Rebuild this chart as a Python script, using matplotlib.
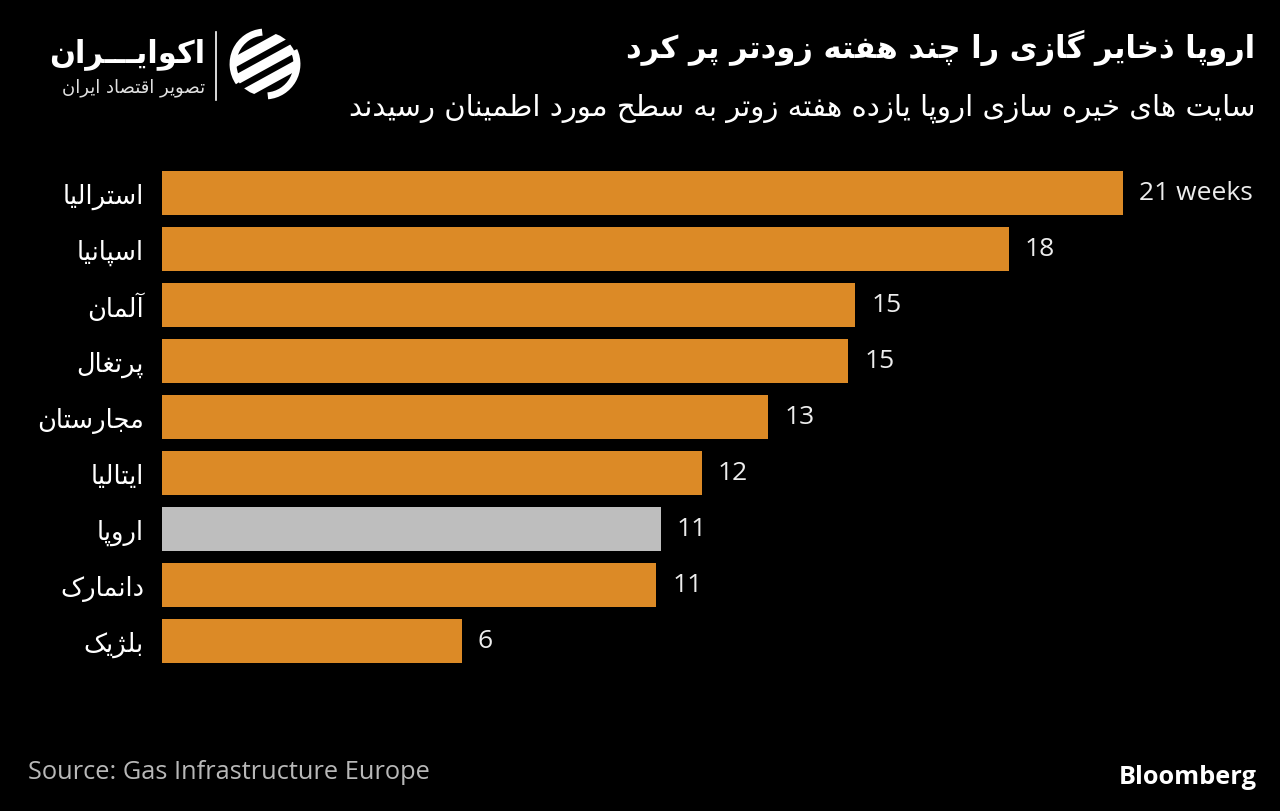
import matplotlib
matplotlib.use("Agg")
import matplotlib.pyplot as plt
from matplotlib.patches import Arc, Circle
import numpy as np

# ---------------- data ----------------
categories = ["استرالیا", "اسپانیا", "آلمان", "پرتغال", "مجارستان",
              "ایتالیا", "اروپا", "دانمارک", "بلژیک"]
weeks = [21.0, 18.5, 15.15, 15.0, 13.25, 11.8, 10.9, 10.8, 6.55]
value_labels = ["21 weeks", "18", "15", "15", "13", "12", "11", "11", "6"]
highlight = "اروپا"

title = "اروپا ذخایر گازی را چند هفته زودتر پر کرد"
subtitle = "سایت های خیره سازی اروپا یازده هفته زوتر به سطح مورد اطمینان رسیدند"
logo_name = "اکوایـــران"
logo_tag = "تصویر اقتصاد ایران"
source = "Source: Gas Infrastructure Europe"
brand = "Bloomberg"

# ---------------- minimal Persian shaping (contextual forms + RTL) ----------------
FORMS = {
    'ا': ('\uFE8D', '\uFE8E', None, None),
    'آ': ('\uFE81', '\uFE82', None, None),
    'ب': ('\uFE8F', '\uFE90', '\uFE91', '\uFE92'),
    'پ': ('\uFB56', '\uFB57', '\uFB58', '\uFB59'),
    'ت': ('\uFE95', '\uFE96', '\uFE97', '\uFE98'),
    'ث': ('\uFE99', '\uFE9A', '\uFE9B', '\uFE9C'),
    'ج': ('\uFE9D', '\uFE9E', '\uFE9F', '\uFEA0'),
    'چ': ('\uFB7A', '\uFB7B', '\uFB7C', '\uFB7D'),
    'ح': ('\uFEA1', '\uFEA2', '\uFEA3', '\uFEA4'),
    'خ': ('\uFEA5', '\uFEA6', '\uFEA7', '\uFEA8'),
    'د': ('\uFEA9', '\uFEAA', None, None),
    'ذ': ('\uFEAB', '\uFEAC', None, None),
    'ر': ('\uFEAD', '\uFEAE', None, None),
    'ز': ('\uFEAF', '\uFEB0', None, None),
    'ژ': ('\uFB8A', '\uFB8B', None, None),
    'س': ('\uFEB1', '\uFEB2', '\uFEB3', '\uFEB4'),
    'ش': ('\uFEB5', '\uFEB6', '\uFEB7', '\uFEB8'),
    'ص': ('\uFEB9', '\uFEBA', '\uFEBB', '\uFEBC'),
    'ض': ('\uFEBD', '\uFEBE', '\uFEBF', '\uFEC0'),
    'ط': ('\uFEC1', '\uFEC2', '\uFEC3', '\uFEC4'),
    'ظ': ('\uFEC5', '\uFEC6', '\uFEC7', '\uFEC8'),
    'ع': ('\uFEC9', '\uFECA', '\uFECB', '\uFECC'),
    'غ': ('\uFECD', '\uFECE', '\uFECF', '\uFED0'),
    'ف': ('\uFED1', '\uFED2', '\uFED3', '\uFED4'),
    'ق': ('\uFED5', '\uFED6', '\uFED7', '\uFED8'),
    'ک': ('\uFB8E', '\uFB8F', '\uFB90', '\uFB91'),
    'گ': ('\uFB92', '\uFB93', '\uFB94', '\uFB95'),
    'ل': ('\uFEDD', '\uFEDE', '\uFEDF', '\uFEE0'),
    'م': ('\uFEE1', '\uFEE2', '\uFEE3', '\uFEE4'),
    'ن': ('\uFEE5', '\uFEE6', '\uFEE7', '\uFEE8'),
    'و': ('\uFEED', '\uFEEE', None, None),
    'ه': ('\uFEE9', '\uFEEA', '\uFEEB', '\uFEEC'),
    'ی': ('\uFBFC', '\uFBFD', '\uFBFE', '\uFBFF'),
    'ئ': ('\uFE89', '\uFE8A', '\uFE8B', '\uFE8C'),
    'ـ': ('\u0640', '\u0640', '\u0640', '\u0640'),
}
LAMALEF = {'ا': ('\uFEFB', '\uFEFC'), 'آ': ('\uFEF5', '\uFEF6')}


def fa(s):
    out = []
    i, n = 0, len(s)
    while i < n:
        c = s[i]
        if c not in FORMS:
            out.append(c)
            i += 1
            continue
        prev = s[i - 1] if i > 0 else None
        jp = prev in FORMS and FORMS[prev][2] is not None
        if c == 'ل' and i + 1 < n and s[i + 1] in LAMALEF:
            out.append(LAMALEF[s[i + 1]][1 if jp else 0])
            i += 2
            continue
        nxt = s[i + 1] if i + 1 < n else None
        jn = FORMS[c][2] is not None and nxt in FORMS
        iso, fin, ini, med = FORMS[c]
        if jp and jn:
            g = med
        elif jp:
            g = fin
        elif jn:
            g = ini
        else:
            g = iso
        out.append(g)
        i += 1
    return ''.join(reversed(out))


# ---------------- figure ----------------
W, H = 1280, 812
fig = plt.figure(figsize=(W / 100, H / 100), dpi=100, facecolor="black")


def fx(px):
    return px / W


def fy(py):
    return 1 - py / H


ORANGE = "#DC8A26"
GREY = "#BEBEBE"
FA_FONT = ["DejaVu Sans"]
LAT_FONT = ["Open Sans", "DejaVu Sans"]

ax_left, ax_right, ax_top, ax_bot = 162, 1250, 166, 670
ax = fig.add_axes([fx(ax_left), fy(ax_bot), (ax_right - ax_left) / W, (ax_bot - ax_top) / H])
ax.set_facecolor("black")
px_per_week = (1123 - 162) / 21.0
ax.set_xlim(0, (ax_right - ax_left) / px_per_week)
ypos = np.arange(len(categories))
ax.set_ylim(len(categories) - 0.5, -0.5)

colors = [GREY if c == highlight else ORANGE for c in categories]
bars = ax.barh(ypos, weeks, height=0.79, color=colors, edgecolor="none")

for b, lab in zip(bars, value_labels):
    ax.annotate(lab, (b.get_width(), b.get_y() + b.get_height() / 2),
                xytext=(11.5, 0), textcoords="offset points",
                va="center", ha="left", color="#EDEDED", fontsize=19,
                family=LAT_FONT)

ax.set_yticks(ypos)
ax.set_yticklabels([fa(c) for c in categories], family=FA_FONT, fontsize=18.5,
                   color="white")
ax.tick_params(axis="y", length=0, pad=13)
ax.set_xticks([])
for sp in ax.spines.values():
    sp.set_visible(False)

# ---------------- titles ----------------
fig.text(fx(1255), fy(48), fa(title), ha="right", va="center", color="white",
         fontsize=22, fontweight="bold", family=FA_FONT)
fig.text(fx(1255), fy(108), fa(subtitle), ha="right", va="center", color="white",
         fontsize=21, family=FA_FONT)

# ---------------- logo ----------------
fig.text(fx(205), fy(54), fa(logo_name), ha="right", va="center", color="white",
         fontsize=22, fontweight="bold", family=FA_FONT)
fig.text(fx(205), fy(88), fa(logo_tag), ha="right", va="center", color="#E0E0E0",
         fontsize=13, family=FA_FONT)
fig.add_artist(plt.Line2D([fx(216), fx(216)], [fy(33), fy(101)], color="white",
                          lw=1.2, transform=fig.transFigure))

iax = fig.add_axes([fx(228), fy(102), 74 / W, 74 / H])
iax.set_xlim(-1.1, 1.1)
iax.set_ylim(-1.1, 1.1)
iax.set_aspect("equal")
iax.axis("off")
iax.add_patch(Arc((0, 0), 1.9, 1.9, theta1=95, theta2=215, color="white", lw=5))
iax.add_patch(Arc((0, 0), 1.9, 1.9, theta1=-85, theta2=25, color="white", lw=5))
clip = Circle((0, 0), 0.95, transform=iax.transData)
for off in (-0.55, 0.0, 0.55):
    xs = np.array([-1.2, 1.2])
    ln, = iax.plot(xs, 0.55 * xs + off, color="white", lw=7, solid_capstyle="butt")
    ln.set_clip_path(clip)

# ---------------- footer ----------------
fig.text(fx(28), fy(773), source, ha="left", va="center", color="#B8B8B8",
         fontsize=18.3, family=LAT_FONT)
fig.text(fx(1257), fy(778), brand, ha="right", va="center", color="white",
         fontsize=18.3, fontweight="bold", family=LAT_FONT)

fig.savefig("out.png", dpi=100, facecolor="black")
